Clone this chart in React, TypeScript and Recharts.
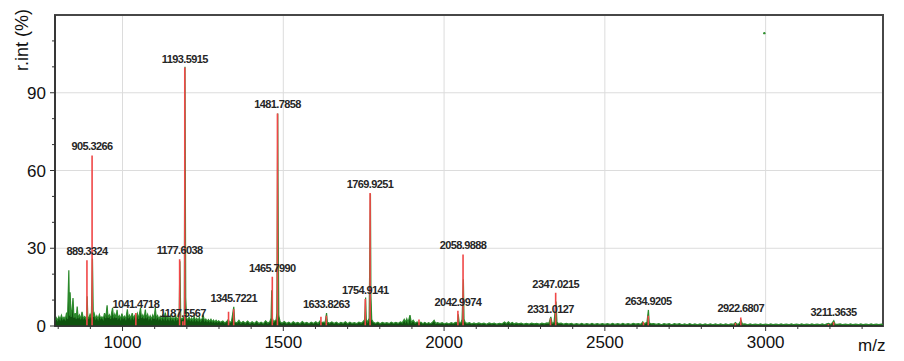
import { ComposedChart, Area, Line, Scatter, XAxis, YAxis, CartesianGrid, ReferenceArea, Label } from 'recharts'

// measured profile (green), m/z vs relative intensity
const greenProfile: [number, number][] = [
  [790, 1.8], [794, 3.2], [798, 2.2], [802, 3.6], [806, 2.4], [810, 4.1], [814, 2.6], [818, 3.4], [822, 2.5], [826, 5.2],
  [829, 2.8], [833, 21.5], [835, 4], [837, 13], [840, 3.5], [843, 6], [846, 10.8], [849, 3.2], [853, 5], [856, 2.8],
  [859, 7.5], [862, 3], [866, 4.2], [870, 2.6], [874, 5.5], [878, 2.9], [882, 3.6], [886, 2.7], [888, 4], [890, 11.5],
  [892, 3.4], [895, 3], [899, 4.5], [903, 3], [906.5, 26], [909, 3.5], [912, 4.8], [916, 2.8], [920, 3.9], [924, 2.6],
  [928, 4.4], [932, 2.9], [936, 3.5], [940, 2.6], [944, 5], [948, 3], [952, 8], [955, 3.2], [959, 4.3], [963, 2.8],
  [966, 5], [969, 7], [972, 3], [976, 4.6], [980, 3.1], [983, 6.2], [986, 3], [990, 4], [994, 2.7], [998, 4.8],
  [1002, 3], [1006, 3.8], [1010, 2.7], [1015, 6.4], [1018, 3], [1022, 4.2], [1026, 2.8], [1030, 5], [1034, 2.9], [1038, 4],
  [1042, 3.2], [1046, 4.8], [1050, 2.8], [1056, 7], [1059, 3.1], [1063, 4.3], [1067, 2.9], [1071, 6.3], [1074, 3], [1078, 4.5],
  [1082, 2.7], [1086, 3.9], [1090, 2.6], [1094, 4.2], [1098, 2.8], [1102, 7], [1105, 3], [1109, 4], [1113, 2.6], [1117, 3.7],
  [1121, 2.5], [1125, 4.1], [1129, 2.7], [1133, 5.2], [1137, 2.6], [1141, 3.6], [1145, 2.4], [1149, 3.9], [1153, 2.5], [1157, 3.3],
  [1161, 2.3], [1165, 4], [1169, 2.4], [1173, 3.2], [1176, 2.6], [1178.5, 25], [1181, 3], [1185, 2.6], [1189, 3.3], [1192, 3],
  [1194.2, 100], [1196.5, 11], [1199, 3], [1203, 2.4], [1207, 3.4], [1211, 2.2], [1215, 3.1], [1219, 2.1], [1223, 3.6], [1227, 2.1],
  [1231, 3], [1235, 2], [1239, 3.3], [1243, 1.9], [1247, 2.8], [1251, 4], [1255, 2], [1259, 2.7], [1263, 1.8], [1267, 2.5],
  [1271, 1.7], [1275, 2.6], [1279, 1.6], [1283, 2.3], [1287, 1.5], [1291, 2.2], [1295, 1.5], [1299, 2],
  [1305, 1.4], [1312, 1.9], [1318, 1.2], [1324, 1.7], [1329, 2.5], [1333, 1.3], [1339, 1.8], [1346, 7.4], [1349, 1.5], [1356, 1.2],
  [1362, 2.2], [1368, 1.1], [1375, 1.7], [1382, 1.1], [1389, 1.9], [1396, 1], [1403, 1.6], [1410, 1], [1417, 1.8], [1424, 1],
  [1431, 1.5], [1438, 0.9], [1445, 2], [1452, 1.1], [1458, 1.6], [1462, 3], [1464, 13.8], [1466, 3], [1470, 1.5], [1474, 2],
  [1478, 2.4], [1480, 5], [1482.7, 82], [1484.3, 34], [1486, 4], [1490, 1.6], [1496, 1.1], [1503, 1.7], [1510, 1], [1517, 1.5],
  [1524, 0.9], [1531, 1.6], [1538, 1], [1545, 1.4], [1552, 0.9], [1559, 1.7], [1566, 1], [1573, 1.4], [1580, 0.9], [1587, 1.5],
  [1594, 1], [1601, 1.6], [1608, 1], [1614, 1.9], [1618, 1.2], [1624, 1.5], [1630, 1.3], [1634.5, 5], [1637, 1.4], [1644, 1.1],
  [1651, 1.6], [1658, 1], [1665, 1.5], [1672, 0.9], [1679, 1.4], [1686, 1], [1693, 1.6], [1700, 0.9], [1707, 1.5], [1714, 1],
  [1721, 1.3], [1728, 0.9], [1735, 1.5], [1742, 1.1], [1748, 1.6], [1753, 2.5], [1756, 11], [1758, 2.5], [1762, 1.5], [1767, 3],
  [1771, 51], [1772.5, 11.5], [1775, 2.5], [1780, 1.4], [1787, 1], [1794, 1.5], [1801, 0.9], [1808, 1.4], [1815, 1], [1822, 1.3],
  [1829, 0.9], [1836, 1.5], [1843, 1], [1850, 1.4], [1857, 1], [1864, 1.6], [1870, 1.2], [1876, 2.6], [1880, 1.5], [1884, 2.8],
  [1888, 1.3], [1894, 4.2], [1898, 1.4], [1904, 2.2], [1910, 1.1], [1916, 1.6], [1922, 1.1], [1928, 1.5], [1934, 0.9], [1940, 1.4],
  [1946, 0.9], [1952, 1.3], [1958, 0.9], [1964, 1.4], [1969, 2.2], [1974, 1], [1980, 1.3], [1987, 0.9], [1994, 1.3], [2001, 0.8],
  [2008, 1.2], [2015, 0.8], [2022, 1.3], [2029, 0.9], [2035, 1.4], [2041, 1.2], [2044, 4.5], [2047, 1.3], [2052, 1.2], [2056, 2.5],
  [2060, 18], [2062, 2.6], [2066, 1.3], [2072, 1], [2079, 1.3], [2086, 0.8], [2093, 1.2], [2100, 0.8], [2108, 1.2], [2116, 0.8],
  [2124, 1.1], [2132, 0.7], [2140, 1.2], [2148, 0.8], [2156, 1.1], [2164, 0.7], [2172, 1], [2180, 0.8], [2188, 1.5], [2194, 0.9],
  [2200, 1.6], [2206, 0.9], [2212, 1.4], [2218, 0.8], [2224, 1.2], [2232, 0.8], [2240, 1.1], [2248, 0.7], [2256, 1], [2264, 0.7],
  [2272, 1.1], [2280, 0.8], [2288, 1], [2296, 0.7], [2304, 1.1], [2312, 0.8], [2320, 1.2], [2326, 1], [2332, 3.5], [2336, 1],
  [2342, 1.3], [2348, 9.4], [2351, 1.5], [2356, 0.9], [2364, 1.1], [2372, 0.7], [2380, 1], [2388, 0.7], [2396, 1], [2404, 0.6],
  [2412, 0.9], [2420, 0.6], [2428, 1], [2436, 0.6], [2444, 0.9], [2452, 0.6], [2460, 1], [2468, 0.6], [2476, 0.9], [2484, 0.6],
  [2492, 0.9], [2500, 0.6], [2508, 0.9], [2516, 0.6], [2524, 1], [2532, 0.6], [2540, 0.9], [2548, 0.6], [2556, 1], [2564, 0.6],
  [2572, 0.9], [2580, 0.6], [2588, 1], [2596, 0.7], [2604, 0.9], [2612, 0.6], [2618, 1.6], [2622, 0.8], [2628, 1.2], [2631, 1.4],
  [2635.5, 6.2], [2638, 1.2], [2644, 0.8], [2652, 0.9], [2660, 0.6], [2668, 0.9], [2676, 0.5], [2684, 0.9], [2692, 0.6], [2700, 0.9],
  [2708, 0.5], [2716, 0.9], [2724, 0.6], [2732, 0.9], [2740, 0.5], [2748, 0.8], [2756, 0.5], [2764, 0.9], [2772, 0.5], [2780, 0.8],
  [2788, 0.5], [2796, 0.8], [2804, 0.5], [2812, 0.8], [2820, 0.5], [2828, 0.8], [2836, 0.5], [2844, 0.8], [2852, 0.5], [2860, 0.8],
  [2868, 0.5], [2876, 0.8], [2884, 0.5], [2892, 0.8], [2900, 0.6], [2906, 1.3], [2912, 0.6], [2918, 1], [2923.5, 2.2], [2928, 0.7],
  [2936, 0.8], [2944, 0.5], [2952, 0.8], [2960, 0.5], [2968, 0.7], [2976, 0.5], [2984, 0.8], [2992, 0.5], [3000, 0.7], [3008, 0.5],
  [3016, 0.8], [3024, 0.5], [3032, 0.7], [3040, 0.5], [3048, 0.8], [3056, 0.5], [3064, 0.7], [3072, 0.5], [3080, 0.8], [3088, 0.5],
  [3096, 0.7], [3104, 0.5], [3112, 0.8], [3120, 0.5], [3128, 0.7], [3136, 0.5], [3144, 0.8], [3152, 0.5], [3160, 0.7], [3168, 0.5],
  [3176, 0.8], [3184, 0.5], [3190, 0.8], [3196, 1], [3202, 0.6], [3206, 1], [3212, 2], [3216, 0.7], [3224, 0.6], [3232, 0.8],
  [3240, 0.5], [3248, 0.7], [3256, 0.5], [3264, 0.8], [3272, 0.5], [3280, 0.7], [3288, 0.5], [3296, 0.8], [3304, 0.5], [3312, 0.7],
  [3320, 0.5], [3328, 0.8], [3336, 0.5], [3344, 0.7], [3352, 0.5], [3360, 0.7], [3365, 0.5],
]

// centroid sticks (red)
const redPeaks: [number, number][] = [
  [889.33, 25.4], [905.33, 65.8], [1041.47, 5], [1177.6, 25.8], [1187.56, 1.8], [1193.59, 99.7],
  [1329.7, 5.5], [1345.72, 6.5], [1465.8, 19], [1481.79, 82], [1617, 3.6], [1633.83, 4],
  [1754.91, 10.4], [1769.93, 51.3], [1922, 2.5], [2042.99, 5.9], [2058.99, 27.6], [2331.01, 3],
  [2347.02, 12.8], [2620, 1.5], [2634.92, 4], [2906, 1.2], [2922.68, 3.3], [3195, 0.8], [3211.36, 1.5],
]

const peakLabels = ['889.3324', '905.3266', '1041.4718', '1177.6038', '1187.5567', '1193.5915', '1345.7221', '1465.7990',
  '1481.7858', '1633.8263', '1754.9141', '1769.9251', '2042.9974', '2058.9888', '2331.0127', '2347.0215', '2634.9205',
  '2922.6807', '3211.3635']
const labelTops = [25.4, 65.8, 5, 25.8, 1.5, 99.7, 7.4, 19, 82, 5, 10.4, 51.3, 5.9, 27.6, 3, 12.8, 6.2, 3.3, 2]

const strayPoint = [{ mz: 2996, v: 113 }]

const xTicks = [800, 900, 1000, 1100, 1200, 1300, 1400, 1500, 1600, 1700, 1800, 1900, 2000, 2100, 2200,
  2300, 2400, 2500, 2600, 2700, 2800, 2900, 3000, 3100, 3200, 3300]
const yTicks = [0, 10, 20, 30, 40, 50, 60, 70, 80, 90, 100, 110]

const greenData = greenProfile.map(([mz, v]) => ({ mz, green: v }))
const redData = redPeaks.flatMap(([mz, h]) => [
  { mz, red: 0 },
  { mz, red: h },
  { mz, red: null },
])
const labelData = peakLabels.map((t, i) => ({ mz: parseFloat(t), top: labelTops[i], label: t }))

const FONT = '"Liberation Sans", Arial, sans-serif'

const XTick = (props: any) => {
  const { x, y, payload } = props
  const major = payload.value % 500 === 0
  return (
    <g>
      <line x1={x} x2={x} y1={y} y2={y + (major ? 5 : 3)} stroke="#333" />
      {major && (
        <text x={x} y={y + 22} textAnchor="middle" fontSize={17} fontFamily={FONT} fill="#111">
          {payload.value}
        </text>
      )}
    </g>
  )
}

const YTick = (props: any) => {
  const { x, y, payload } = props
  const major = payload.value % 30 === 0
  return (
    <g>
      <line x1={x - (major ? 5 : 3)} x2={x} y1={y} y2={y} stroke="#333" />
      {major && (
        <text x={x - 9} y={y + 6} textAnchor="end" fontSize={17} fontFamily={FONT} fill="#111">
          {payload.value}
        </text>
      )}
    </g>
  )
}

const PeakLabel = (props: any) => (
  <text x={props.cx} y={props.cy - 5} textAnchor="middle" fontSize={11} fontWeight="bold"
    letterSpacing={-0.6} fontFamily={FONT} fill="#262626">
    {props.payload.label}
  </text>
)

export default function App() {
  return (
    <div style={{ position: 'absolute', left: 0, top: 0, width: 904, height: 361, background: '#fff' }}>
      <ComposedChart width={904} height={361} margin={{ top: 15, right: 21, bottom: 0, left: 0 }}>
        <CartesianGrid stroke="#dcdcdc" horizontalValues={[30, 60, 90]} verticalValues={[1000, 1500, 2000, 2500, 3000]} />
        <XAxis dataKey="mz" type="number" domain={[790, 3365]} ticks={xTicks} interval={0} height={35}
          tickSize={0} tickMargin={0} tick={<XTick />} axisLine={{ stroke: '#333', strokeWidth: 1.5 }} allowDataOverflow>
          <Label content={() => (
            <text x={858} y={351} fontSize={17} fontFamily={FONT} fill="#111">m/z</text>
          )} />
        </XAxis>
        <YAxis type="number" domain={[0, 120]} ticks={yTicks} interval={0} width={55}
          tickSize={0} tickMargin={0} tick={<YTick />} axisLine={{ stroke: '#333', strokeWidth: 1.5 }} allowDataOverflow>
          <Label content={() => (
            <text x={28} y={40} transform="rotate(-90, 28, 40)" textAnchor="middle" fontSize={18}
              fontFamily={FONT} fill="#111">r.int (%)</text>
          )} />
        </YAxis>
        <ReferenceArea x1={790} x2={3365} y1={0} y2={120} fill="none" stroke="#474747" strokeWidth={2} ifOverflow="visible" />
        <Line data={redData} dataKey="red" type="linear" stroke="#f04848" strokeWidth={1.6} dot={false}
          connectNulls={false} isAnimationActive={false} />
        <Area data={greenData} dataKey="green" type="linear" stroke="#2c8a2c" strokeWidth={1.2} fill="#0f530f"
          fillOpacity={1} dot={false} isAnimationActive={false} />
        <Scatter data={strayPoint} dataKey="v" fill="#2f8f2f" shape={(p: any) => <circle cx={p.cx} cy={p.cy} r={1.2} fill="#2f8f2f" />}
          isAnimationActive={false} />
        <Scatter data={labelData} dataKey="top" shape={<PeakLabel />} isAnimationActive={false} />
      </ComposedChart>
    </div>
  )
}
